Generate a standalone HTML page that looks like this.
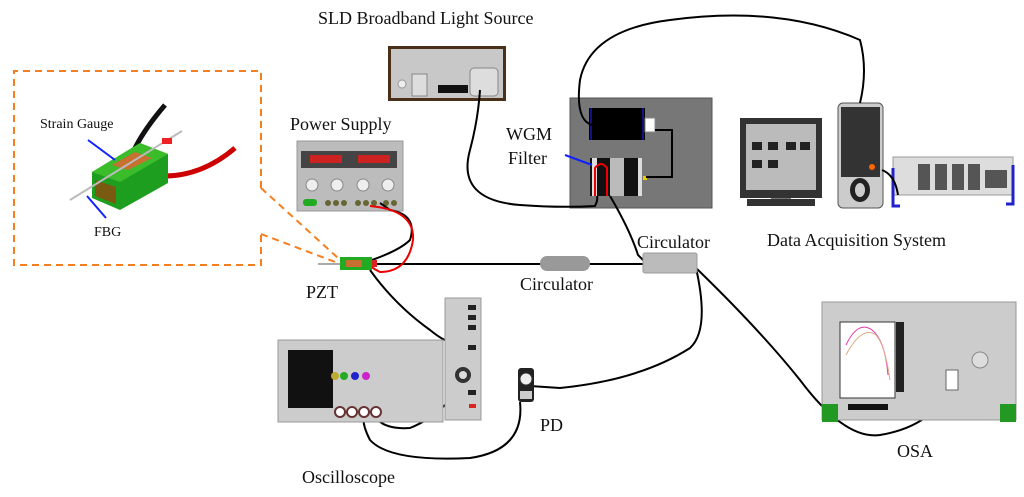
<!DOCTYPE html>
<html><head><meta charset="utf-8"><style>
html,body{margin:0;padding:0;background:#fff;width:1024px;height:497px;overflow:hidden}
svg text{font-family:"Liberation Serif",serif;fill:#111}
</style></head><body>
<svg width="1024" height="497" viewBox="0 0 1024 497" xmlns="http://www.w3.org/2000/svg">
<!-- labels -->
<text x="318" y="24" font-size="18">SLD Broadband Light Source</text>
<text x="290" y="130" font-size="18">Power Supply</text>
<text x="506" y="140" font-size="18">WGM</text>
<text x="508" y="164" font-size="18">Filter</text>
<text x="637" y="248" font-size="18">Circulator</text>
<text x="767" y="246" font-size="18">Data Acquisition System</text>
<text x="306" y="298" font-size="18">PZT</text>
<text x="520" y="290" font-size="18">Circulator</text>
<text x="540" y="431" font-size="18">PD</text>
<text x="897" y="457" font-size="18">OSA</text>
<text x="302" y="483" font-size="18">Oscilloscope</text>

<!-- dashed inset -->
<path d="M261 188 V71 H14 V265 H261 V234" fill="none" stroke="#f47f20" stroke-width="2" stroke-dasharray="7,5"/>
<path d="M261 188 L338 258 M261 234 L338 263" fill="none" stroke="#f47f20" stroke-width="2" stroke-dasharray="7,5"/>
<text x="40" y="128" font-size="14">Strain Gauge</text>
<text x="94" y="236" font-size="14">FBG</text>
<!-- inset device -->
<path d="M128 166 Q135 140 165 105" stroke="#111" stroke-width="5" fill="none"/>
<path d="M158 176 Q200 178 235 148" stroke="#c00" stroke-width="5" fill="none"/>
<polygon points="92,172 140,143 168,154 168,183 120,210 92,198" fill="#1e9e1e"/>
<polygon points="92,172 140,143 168,154 120,182" fill="#3bbd2b"/>
<polygon points="95,180 116,187 116,204 95,196" fill="#7a5a10"/>
<polygon points="112,165 135,152 152,158 128,170" fill="#c87030"/>
<line x1="70" y1="200" x2="182" y2="131" stroke="#bbb" stroke-width="2"/>
<rect x="162" y="138" width="10" height="6" fill="#e22"/>
<line x1="88" y1="140" x2="115" y2="160" stroke="#12f" stroke-width="2"/>
<line x1="106" y1="218" x2="87" y2="196" stroke="#12f" stroke-width="2"/>

<!-- SLD -->
<rect x="388" y="46" width="118" height="55" fill="#4a3018"/>
<rect x="391" y="49" width="112" height="49" fill="#c8c8c8"/>
<rect x="470" y="68" width="28" height="28" rx="4" fill="#ddd" stroke="#888"/>
<rect x="438" y="85" width="30" height="8" fill="#111"/>
<circle cx="402" cy="84" r="4" fill="#eee" stroke="#999"/>
<rect x="412" y="74" width="15" height="22" fill="#ddd" stroke="#888"/>

<!-- power supply -->
<rect x="297" y="141" width="106" height="70" fill="#bcbcbc" stroke="#999"/>
<rect x="301" y="151" width="96" height="17" fill="#444"/>
<rect x="310" y="155" width="32" height="8" fill="#c22"/>
<rect x="358" y="155" width="32" height="8" fill="#c22"/>
<g fill="#eee" stroke="#888"><circle cx="312" cy="185" r="6"/><circle cx="337" cy="185" r="6"/><circle cx="363" cy="185" r="6"/><circle cx="388" cy="185" r="6"/></g>
<rect x="303" y="199" width="14" height="7" rx="3" fill="#2a2"/>
<g fill="#663" ><circle cx="328" cy="203" r="3"/><circle cx="336" cy="203" r="3"/><circle cx="344" cy="203" r="3"/><circle cx="358" cy="203" r="3"/><circle cx="366" cy="203" r="3"/><circle cx="374" cy="203" r="3"/><circle cx="386" cy="203" r="3"/><circle cx="394" cy="203" r="3"/></g>

<!-- WGM panel -->
<rect x="570" y="98" width="142" height="110" fill="#777" stroke="#555"/>
<rect x="589" y="108" width="56" height="32" fill="#000"/>
<line x1="591" y1="108" x2="591" y2="140" stroke="#22f"/><line x1="643" y1="108" x2="643" y2="140" stroke="#22f"/>
<rect x="645" y="118" width="10" height="14" fill="#fff" stroke="#888"/>
<rect x="590" y="158" width="50" height="38" fill="#111"/>
<rect x="610" y="158" width="14" height="38" fill="#bbb"/>
<rect x="592" y="158" width="5" height="38" fill="#ddd"/><rect x="638" y="158" width="4" height="38" fill="#ddd"/>
<path d="M595 196 V168 Q601 160 607 168 V196" stroke="#e00" stroke-width="2" fill="none"/>
<rect x="643" y="176" width="4" height="4" fill="#ec0"/>
<line x1="565" y1="155" x2="592" y2="165" stroke="#12f" stroke-width="2"/>

<!-- monitor -->
<rect x="740" y="118" width="82" height="80" fill="#333"/>
<rect x="746" y="124" width="70" height="66" fill="#bbb"/>
<g fill="#222"><rect x="752" y="142" width="10" height="8"/><rect x="768" y="142" width="10" height="8"/><rect x="786" y="142" width="10" height="8"/><rect x="800" y="142" width="10" height="8"/><rect x="752" y="160" width="10" height="8"/><rect x="768" y="160" width="10" height="8"/></g>
<rect x="771" y="198" width="20" height="8" fill="#777"/><rect x="747" y="199" width="68" height="7" fill="#333"/>
<!-- tower -->
<rect x="838" y="103" width="45" height="105" rx="5" fill="#ccc" stroke="#555"/>
<rect x="841" y="107" width="39" height="70" fill="#333"/>
<circle cx="872" cy="167" r="3" fill="#f60"/>
<ellipse cx="860" cy="190" rx="10" ry="12" fill="#222"/><ellipse cx="860" cy="190" rx="5" ry="7" fill="#ccc"/>
<!-- DAQ -->
<rect x="893" y="157" width="120" height="38" fill="#ddd" stroke="#999"/>
<g fill="#555"><rect x="918" y="164" width="12" height="26"/><rect x="935" y="164" width="12" height="26"/><rect x="952" y="164" width="12" height="26"/><rect x="968" y="164" width="12" height="26"/><rect x="985" y="170" width="22" height="18"/></g>
<path d="M893 168 V206 H900 M1013 165 V204 H1006" stroke="#22c" stroke-width="3" fill="none"/>

<!-- fibers / cables -->
<g fill="none" stroke="#000" stroke-width="2">
<path d="M480 90 Q478 120 470 150 Q456 200 520 205 Q560 208 595 206 Q598 200 597 196"/>
<path d="M592 125 Q575 120 580 80 Q590 30 670 20 Q780 5 860 40 Q868 70 860 103"/>
<path d="M655 130 H672 V177 H646"/>
<path d="M610 196 Q630 230 638 255 L645 262"/>
<path d="M335 264 H643"/>
<path d="M696 268 Q710 330 690 348 Q640 380 560 388 L530 386"/>
<path d="M696 268 Q760 330 800 380 Q845 440 880 435 Q940 425 955 375"/>
<path d="M372 260 Q400 250 410 240 Q418 215 390 210 L380 203"/>
<path d="M370 270 Q395 305 430 330 Q440 338 445 340"/>
<path d="M520 402 Q525 450 470 458 Q390 462 370 440 Q362 425 363 412"/>
<path d="M372 412 Q380 430 410 428 Q430 420 445 405"/>
<path d="M882 170 Q895 175 898 195"/>
</g>
<path d="M370 206 Q415 210 413 240 Q408 272 380 272 Q372 268 368 264" fill="none" stroke="#e00" stroke-width="2"/>

<!-- PZT -->
<line x1="318" y1="264" x2="372" y2="264" stroke="#aaa" stroke-width="2"/>
<rect x="340" y="257" width="32" height="13" fill="#2a2"/>
<rect x="346" y="260" width="16" height="7" fill="#c87030"/>
<rect x="372" y="260" width="5" height="7" fill="#d22"/>
<!-- inline circulator -->
<rect x="540" y="256" width="50" height="15" rx="7" fill="#999"/>
<!-- circulator box -->
<rect x="643" y="253" width="54" height="20" rx="2" fill="#bbb" stroke="#999"/>

<!-- oscilloscope -->
<rect x="278" y="340" width="165" height="82" fill="#ccc" stroke="#999"/>
<rect x="288" y="350" width="45" height="58" fill="#111"/>
<circle cx="335" cy="376" r="4" fill="#ba3"/><circle cx="344" cy="376" r="4" fill="#2a2"/><circle cx="355" cy="376" r="4" fill="#22c"/><circle cx="366" cy="376" r="4" fill="#c2c"/>
<g fill="#fff" stroke="#633" stroke-width="2"><circle cx="340" cy="412" r="5"/><circle cx="352" cy="412" r="5"/><circle cx="364" cy="412" r="5"/><circle cx="376" cy="412" r="5"/></g>
<rect x="445" y="298" width="36" height="122" fill="#ccc" stroke="#999"/>
<circle cx="463" cy="375" r="8" fill="#333"/><circle cx="463" cy="375" r="4" fill="#ddd"/>
<g fill="#222"><rect x="468" y="305" width="8" height="5"/><rect x="468" y="315" width="8" height="5"/><rect x="468" y="325" width="8" height="5"/><rect x="468" y="345" width="8" height="5"/><rect x="468" y="390" width="8" height="5"/></g>
<rect x="469" y="404" width="7" height="4" fill="#d22"/>
<!-- PD -->
<rect x="518" y="368" width="16" height="34" rx="3" fill="#222"/>
<circle cx="526" cy="379" r="6" fill="#eee" stroke="#333"/>
<rect x="520" y="391" width="12" height="8" fill="#ccc"/>
<!-- OSA -->
<rect x="822" y="302" width="194" height="118" fill="#ccc" stroke="#999"/>
<rect x="822" y="404" width="16" height="18" fill="#292"/><rect x="1000" y="404" width="16" height="18" fill="#292"/>
<rect x="840" y="322" width="55" height="76" fill="#fff" stroke="#333"/>
<path d="M846 345 Q858 320 872 330 Q885 340 888 375" stroke="#e3a" fill="none"/>
<path d="M846 355 Q862 325 876 335 Q885 345 890 380" stroke="#da8" fill="none"/>
<rect x="896" y="322" width="8" height="70" fill="#222"/>
<rect x="848" y="404" width="40" height="6" fill="#111"/>
<rect x="946" y="370" width="12" height="20" fill="#fff" stroke="#666"/>
<circle cx="980" cy="360" r="8" fill="#ddd" stroke="#888"/>
</svg>
</body></html>
